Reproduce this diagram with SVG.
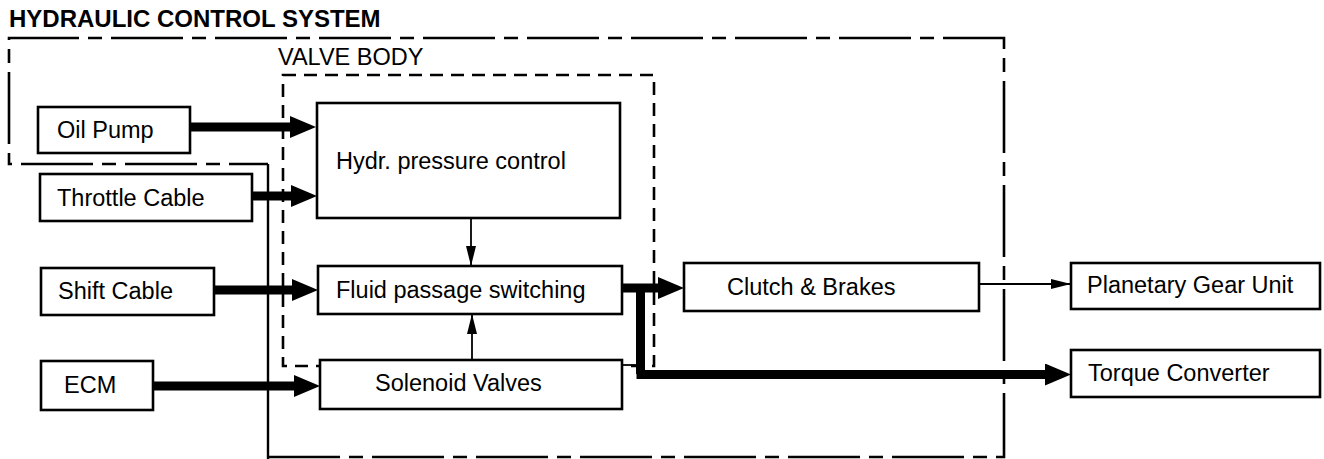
<svg xmlns="http://www.w3.org/2000/svg" width="1324" height="459" viewBox="0 0 1324 459">
<style>
.t{font-family:"Liberation Sans",Arial,sans-serif;font-size:23.5px;fill:#000}
.title{font-weight:bold;font-size:24px}
.box{fill:#fff;stroke:#000;stroke-width:2.6}
.outer{fill:none;stroke:#000;stroke-width:2.6;stroke-dasharray:72 9 14 9}
.vb{fill:none;stroke:#000;stroke-width:2.6;stroke-dasharray:13 8}
.thick{fill:none;stroke:#000;stroke-width:9}
.thin{fill:none;stroke:#000;stroke-width:1.8}
</style>
<defs>
<marker id="big" markerUnits="userSpaceOnUse" markerWidth="26" markerHeight="22" refX="8" refY="11" orient="auto">
<path d="M0,0 L26,11 L0,22 z" fill="#000"/>
</marker>
<marker id="small" markerUnits="userSpaceOnUse" markerWidth="20" markerHeight="10" refX="20" refY="5" orient="auto">
<path d="M0,0 L20,5 L0,10 z" fill="#000"/>
</marker>
</defs>
<rect width="1324" height="459" fill="#fff"/>
<text class="t title" x="9" y="27">HYDRAULIC CONTROL SYSTEM</text>
<g id="hydraulic-control-system">
<path class="outer" d="M268,457 H1004 V38 H9 V164 H268"/>
<path fill="none" stroke="#000" stroke-width="2.4" d="M268,164 V459"/>
</g>
<g id="valve-body">
<rect class="vb" x="283" y="75" width="371" height="291"/>
<text class="t" x="278" y="65">VALVE BODY</text>
</g>
<g id="connectors">
<line class="thick" x1="190" y1="127" x2="298" y2="127" marker-end="url(#big)"/>
<line class="thick" x1="252" y1="196" x2="299" y2="196" marker-end="url(#big)"/>
<line class="thick" x1="214" y1="290" x2="300" y2="290" marker-end="url(#big)"/>
<line class="thick" x1="153" y1="386" stroke-width="10" x2="302" y2="386" marker-end="url(#big)"/>
<line class="thin" x1="471" y1="218" x2="471" y2="266" marker-end="url(#small)"/>
<line class="thin" x1="472" y1="360" x2="472" y2="314" marker-end="url(#small)"/>
<line class="thick" x1="622" y1="288" x2="666" y2="288" stroke-width="10" marker-end="url(#big)"/>
<path class="thick" stroke-width="8" d="M640.5,284 V374"/>
<line class="thick" x1="636.5" y1="374.5" x2="1053" y2="374.5" stroke-width="11" marker-end="url(#big)"/>
<line class="thin" x1="622" y1="365" x2="640" y2="365" stroke-width="1.6"/>
<line class="thin" x1="979" y1="284" x2="1071" y2="284" stroke-width="1.5" marker-end="url(#small)"/>
</g>
<g id="oil-pump"><rect class="box" x="38" y="107" width="152" height="46"/><text class="t" x="57" y="138">Oil Pump</text></g>
<g id="throttle-cable"><rect class="box" x="40" y="174" width="212" height="47"/><text class="t" x="57" y="206">Throttle Cable</text></g>
<g id="shift-cable"><rect class="box" x="41" y="268" width="173" height="47"/><text class="t" x="58" y="299">Shift Cable</text></g>
<g id="ecm"><rect class="box" x="41" y="361" width="112" height="49"/><text class="t" x="64" y="393">ECM</text></g>
<g id="hydr-pressure-control"><rect class="box" x="317" y="103" width="303" height="115"/><text class="t" x="336" y="169">Hydr. pressure control</text></g>
<g id="fluid-passage-switching"><rect class="box" x="318" y="266" width="304" height="48"/><text class="t" x="336" y="298">Fluid passage switching</text></g>
<g id="solenoid-valves"><rect class="box" x="320" y="360" width="302" height="49"/><text class="t" x="375" y="391">Solenoid Valves</text></g>
<g id="clutch-brakes"><rect class="box" x="684" y="263" width="295" height="48"/><text class="t" x="727" y="295">Clutch &amp; Brakes</text></g>
<g id="planetary-gear-unit"><rect class="box" x="1071" y="263" width="249" height="46"/><text class="t" x="1087" y="293">Planetary Gear Unit</text></g>
<g id="torque-converter"><rect class="box" x="1071" y="350" width="249" height="47"/><text class="t" x="1088" y="381">Torque Converter</text></g>
</svg>
